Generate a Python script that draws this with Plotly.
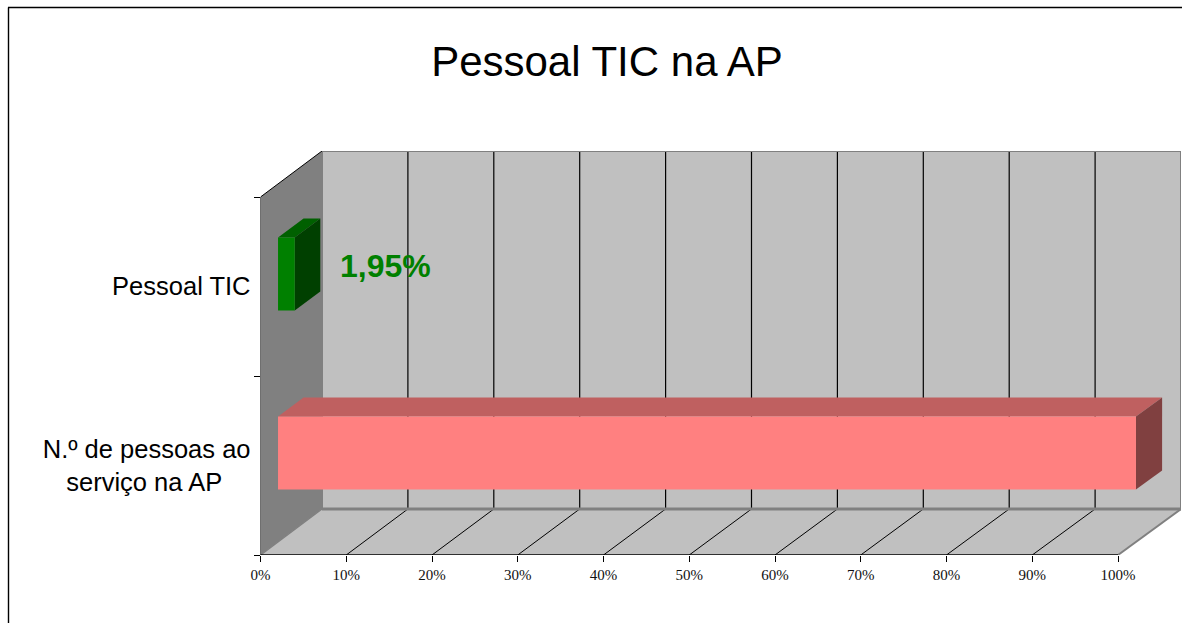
import plotly.graph_objects as go

# ---- data ----
categories = ["N.º de pessoas ao<br>serviço na AP\u00a0\u00a0\u00a0\u00a0", "Pessoal TIC"]
values = [100, 1.95]
front_colors = ["#FF8080", "#008000"]
top_colors = ["#BF6060", "#006000"]
side_colors = ["#804040", "#004000"]
x_ticks = list(range(0, 101, 10))
x_tick_labels = [f"{t}%" for t in x_ticks]
y_bounds = [0, 1, 2]
title_text = "Pessoal TIC na AP"

# ---- oblique projection of the 3-D box, in axis units ----
W, H = 1182, 623
X0, X100, XR = 260.5, 1118.0, 1181.0   # px
XB0 = 322.0                            # px, back wall left edge
YB, YT2, YR = 555.0, 197.0, 151.0      # px
ux = (X100 - X0) / 100
uy = (YB - YT2) / 2
DX = (XB0 - X0) / ux                   # full depth, x units
DY = (YB - 509.0) / uy                 # full depth, y units
SX = (XR - XB0) / (X100 - X0) - 1      # back wall is a touch wider
x_max = (XR - X0) / ux
y_max = (YB - YR) / uy
BAR_D0, BAR_D1 = 0.285, 0.70
BAR_LO, BAR_HI = 0.292, 0.70


def pr(x, y, d=0.0):
    return x * (1 + SX * d) + DX * d, y + DY * d


def poly(points, color, line_color=None, line_width=0):
    xs, ys = zip(*(pr(*p) for p in points + [points[0]]))
    return go.Scatter(
        x=xs, y=ys, mode="lines", fill="toself", fillcolor=color,
        line=dict(color=line_color or color, width=line_width),
        hoverinfo="skip", showlegend=False, cliponaxis=False,
    )


def seg(a, b, color="black", width=1.2):
    xs, ys = zip(pr(*a), pr(*b))
    return go.Scatter(
        x=xs, y=ys, mode="lines", line=dict(color=color, width=width),
        hoverinfo="skip", showlegend=False, cliponaxis=False,
    )


top_y = y_bounds[-1]
traces = [
    poly([(0, 0, 0), (0, 0, 1), (0, top_y, 1), (0, top_y, 0)], "#808080"),
    poly([(0, 0, 1), (100, 0, 1), (100, top_y, 1), (0, top_y, 1)], "#C0C0C0"),
    poly([(0, 0, 0), (100, 0, 0), (100, 0, 1), (0, 0, 1)], "#C0C0C0"),
]
for t in x_ticks[1:-1]:
    traces.append(seg((t, 0, 1), (t, top_y, 1)))
    traces.append(seg((t, 0, 0), (t, 0, 1), "black", 1))
# wall borders
traces += [
    seg((0, 0, 1), (0, top_y, 1), "#808080", 2),
    seg((0, top_y, 1), (100, top_y, 1), "#808080", 2),
    seg((100, 0, 1), (100, top_y, 1), "#808080", 2),
    seg((0, 0, 1), (100, 0, 1), "#808080", 3),
    seg((0, 0, 0), (0, 0, 1), "#808080", 1.5),
    seg((100, 0, 0), (100, 0, 1), "#808080", 2),
    seg((0, top_y, 0), (0, top_y, 1), "black", 1),
    seg((0, 0, 0), (0, top_y, 0), "black", 1),
    seg((0, 0, 0), (100, 0, 0), "black", 1.5),
]
# bars
for i, v in enumerate(values):
    lo, hi = i + BAR_LO, i + BAR_HI
    traces += [
        poly([(0, hi, BAR_D0), (v, hi, BAR_D0), (v, hi, BAR_D1), (0, hi, BAR_D1)], top_colors[i]),
        poly([(v, lo, BAR_D0), (v, hi, BAR_D0), (v, hi, BAR_D1), (v, lo, BAR_D1)], side_colors[i]),
        poly([(0, lo, BAR_D0), (v, lo, BAR_D0), (v, hi, BAR_D0), (0, hi, BAR_D0)], front_colors[i]),
    ]

fig = go.Figure(traces)
fig.update_layout(
    width=W, height=H,
    margin=dict(l=0, r=0, t=0, b=0, autoexpand=False),
    paper_bgcolor="white", plot_bgcolor="rgba(0,0,0,0)",
    showlegend=False,
    title=dict(
        text=title_text, x=607 / W, xanchor="center", y=1 - 61 / H, yanchor="middle",
        automargin=False,
        font=dict(family="Liberation Sans", size=42, color="black"),
    ),
    xaxis=dict(
        domain=[X0 / W, XR / W], range=[0, x_max], showgrid=False, zeroline=False,
        automargin=False,
        showline=False, tickmode="array", tickvals=x_ticks, ticktext=x_tick_labels,
        ticks="outside", ticklen=6, tickwidth=1, tickcolor="black",
        tickfont=dict(family="Liberation Serif", size=15, color="#111111"),
    ),
    yaxis=dict(
        domain=[1 - YB / H, 1 - YR / H], range=[0, y_max], showgrid=False, zeroline=False,
        automargin=False,
        showline=False, tickmode="array", tickvals=[0.5, 1.5], ticktext=categories,
        ticks="", ticklabelstandoff=9,
        tickfont=dict(family="Liberation Sans", size=25.5, color="black"),
        minor=dict(tickmode="array", tickvals=y_bounds, ticks="outside", ticklen=6,
                   tickwidth=1, tickcolor="black", showgrid=False),
    ),
    shapes=[
        dict(type="line", xref="paper", yref="paper", x0=8.5 / W, x1=8.5 / W, y0=0, y1=1 - 7.5 / H,
             line=dict(color="black", width=1.4)),
        dict(type="line", xref="paper", yref="paper", x0=8 / W, x1=1, y0=1 - 7.5 / H, y1=1 - 7.5 / H,
             line=dict(color="black", width=1.4)),
    ],
    annotations=[
        dict(
            x=values[1] + 12.65, y=1.613, xref="x", yref="y", showarrow=False,
            text=f"{values[1]:.2f}".replace(".", ",") + "%",
            font=dict(family="Liberation Sans", size=32, color="#008000", weight="bold"),
        )
    ],
)
fig.write_html(
    "out.html",
    config={"displayModeBar": False},
    post_script="document.body.style.margin='0';document.body.style.overflow='hidden';",
)
